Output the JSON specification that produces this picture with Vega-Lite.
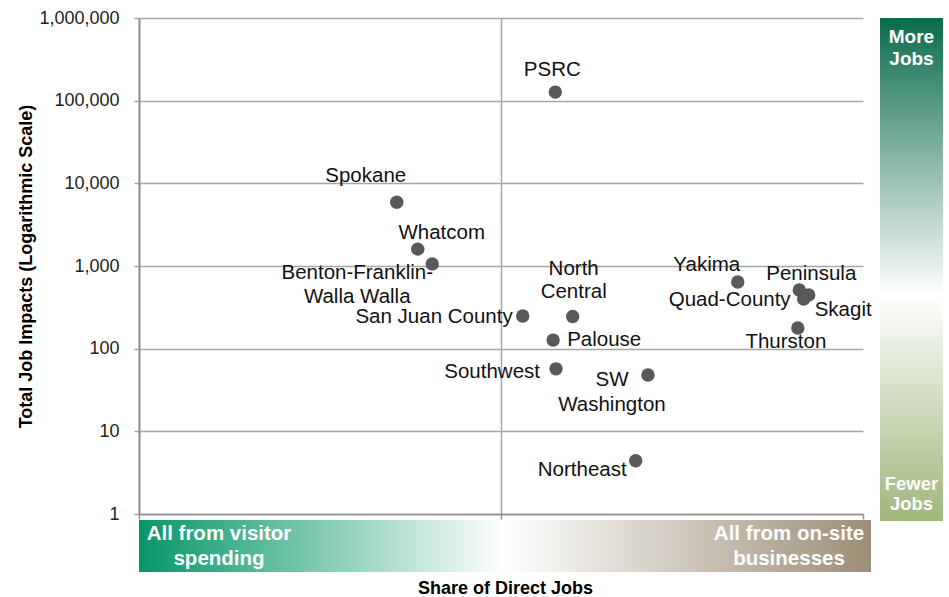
{
  "$schema": "https://vega.github.io/schema/vega-lite/v6.json",
  "background": "white",
  "padding": {"left": 17, "top": 9, "right": 0, "bottom": 0},
  "config": {
    "font": "Liberation Sans",
    "view": {"stroke": null},
    "text": {"font": "Liberation Sans"}
  },
  "datasets": {
    "regions": [
      {"region": "PSRC", "share": 0.575, "jobs": 127000},
      {"region": "Spokane", "share": 0.356, "jobs": 5900},
      {"region": "Whatcom", "share": 0.385, "jobs": 1600},
      {"region": "Benton-Franklin-\nWalla Walla", "share": 0.405, "jobs": 1060},
      {"region": "San Juan County", "share": 0.53, "jobs": 248},
      {"region": "North\nCentral", "share": 0.599, "jobs": 245},
      {"region": "Palouse", "share": 0.572, "jobs": 127},
      {"region": "Southwest", "share": 0.576, "jobs": 57},
      {"region": "SW\nWashington", "share": 0.703, "jobs": 48},
      {"region": "Northeast", "share": 0.686, "jobs": 4.4},
      {"region": "Yakima", "share": 0.827, "jobs": 640},
      {"region": "Peninsula", "share": 0.912, "jobs": 512},
      {"region": "Quad-County", "share": 0.918, "jobs": 399},
      {"region": "Skagit", "share": 0.925, "jobs": 446},
      {"region": "Thurston", "share": 0.91, "jobs": 178}
    ]
  },
  "spacing": 8,
  "hconcat": [
    {
      "spacing": 6,
      "bounds": "flush",
      "vconcat": [
        {
          "width": 724,
          "height": 496,
          "data": {"name": "regions"},
          "encoding": {
            "x": {
              "field": "share", "type": "quantitative",
              "scale": {"domain": [0, 1], "nice": false, "zero": false},
              "axis": {
                "values": [0, 0.5, 1], "labels": false, "title": null,
                "ticks": true, "tickSize": 5, "tickColor": "#8c8c8c", "tickWidth": 1.5,
                "domainColor": "#8c8c8c", "domainWidth": 1.5,
                "grid": true,
                "gridColor": {"condition": {"test": "datum.value === 0.5", "value": "#a6a6a6"}, "value": "transparent"},
                "gridWidth": 1.5
              }
            },
            "y": {
              "field": "jobs", "type": "quantitative",
              "scale": {"type": "log", "domain": [1, 1000000], "nice": false},
              "axis": {
                "values": [1, 10, 100, 1000, 10000, 100000, 1000000],
                "format": ",",
                "title": "Total Job Impacts (Logarithmic Scale)",
                "titleFont": "Liberation Sans", "titleFontSize": 18, "titleFontWeight": "bold",
                "titleColor": "#000000", "titlePadding": 3,
                "labelFont": "Liberation Sans", "labelFontSize": 18, "labelColor": "#222222",
                "labelPadding": 15,
                "tickSize": 5, "tickColor": "#a6a6a6", "tickWidth": 1.5,
                "domainColor": "#8c8c8c", "domainWidth": 2,
                "grid": true, "gridColor": "#a6a6a6", "gridWidth": 1.5
              }
            }
          },
          "layer": [
            {"mark": {"type": "circle", "size": 180, "color": "#595959", "opacity": 1}},
            {"transform": [{"filter": {"field": "region", "equal": "PSRC"}}],
             "mark": {"type": "text", "fontSize": 20.5, "color": "#111111", "align": "center", "baseline": "middle", "dx": -3, "dy": -22},
             "encoding": {"text": {"field": "region"}}},
            {"transform": [{"filter": {"field": "region", "equal": "Spokane"}}],
             "mark": {"type": "text", "fontSize": 20.5, "color": "#111111", "align": "center", "baseline": "middle", "dx": -31, "dy": -26},
             "encoding": {"text": {"field": "region"}}},
            {"transform": [{"filter": {"field": "region", "equal": "Whatcom"}}],
             "mark": {"type": "text", "fontSize": 20.5, "color": "#111111", "align": "center", "baseline": "middle", "dx": 24, "dy": -16},
             "encoding": {"text": {"field": "region"}}},
            {"transform": [{"filter": {"field": "region", "equal": "Benton-Franklin-\nWalla Walla"}}],
             "mark": {"type": "text", "fontSize": 20.5, "color": "#111111", "align": "center", "baseline": "middle", "dx": -75, "dy": 9, "lineBreak": "\n", "lineHeight": 24},
             "encoding": {"text": {"field": "region"}}},
            {"transform": [{"filter": {"field": "region", "equal": "San Juan County"}}],
             "mark": {"type": "text", "fontSize": 20.5, "color": "#111111", "align": "right", "baseline": "middle", "dx": -10, "dy": 1},
             "encoding": {"text": {"field": "region"}}},
            {"transform": [{"filter": {"field": "region", "equal": "North\nCentral"}}],
             "mark": {"type": "text", "fontSize": 20.5, "color": "#111111", "align": "center", "baseline": "middle", "dx": 1, "dy": -47, "lineBreak": "\n", "lineHeight": 23},
             "encoding": {"text": {"field": "region"}}},
            {"transform": [{"filter": {"field": "region", "equal": "Palouse"}}],
             "mark": {"type": "text", "fontSize": 20.5, "color": "#111111", "align": "left", "baseline": "middle", "dx": 14, "dy": 0},
             "encoding": {"text": {"field": "region"}}},
            {"transform": [{"filter": {"field": "region", "equal": "Southwest"}}],
             "mark": {"type": "text", "fontSize": 20.5, "color": "#111111", "align": "right", "baseline": "middle", "dx": -16, "dy": 3},
             "encoding": {"text": {"field": "region"}}},
            {"transform": [{"filter": {"field": "region", "equal": "SW\nWashington"}}],
             "mark": {"type": "text", "fontSize": 20.5, "color": "#111111", "align": "center", "baseline": "middle", "dx": -36, "dy": 5, "lineBreak": "\n", "lineHeight": 25},
             "encoding": {"text": {"field": "region"}}},
            {"transform": [{"filter": {"field": "region", "equal": "Northeast"}}],
             "mark": {"type": "text", "fontSize": 20.5, "color": "#111111", "align": "right", "baseline": "middle", "dx": -9, "dy": 9},
             "encoding": {"text": {"field": "region"}}},
            {"transform": [{"filter": {"field": "region", "equal": "Yakima"}}],
             "mark": {"type": "text", "fontSize": 20.5, "color": "#111111", "align": "center", "baseline": "middle", "dx": -31, "dy": -17},
             "encoding": {"text": {"field": "region"}}},
            {"transform": [{"filter": {"field": "region", "equal": "Peninsula"}}],
             "mark": {"type": "text", "fontSize": 20.5, "color": "#111111", "align": "center", "baseline": "middle", "dx": 12, "dy": -16},
             "encoding": {"text": {"field": "region"}}},
            {"transform": [{"filter": {"field": "region", "equal": "Quad-County"}}],
             "mark": {"type": "text", "fontSize": 20.5, "color": "#111111", "align": "right", "baseline": "middle", "dx": -13, "dy": 1},
             "encoding": {"text": {"field": "region"}}},
            {"transform": [{"filter": {"field": "region", "equal": "Skagit"}}],
             "mark": {"type": "text", "fontSize": 20.5, "color": "#111111", "align": "left", "baseline": "middle", "dx": 6, "dy": 15},
             "encoding": {"text": {"field": "region"}}},
            {"transform": [{"filter": {"field": "region", "equal": "Thurston"}}],
             "mark": {"type": "text", "fontSize": 20.5, "color": "#111111", "align": "center", "baseline": "middle", "dx": -12, "dy": 14},
             "encoding": {"text": {"field": "region"}}}
          ]
        },
        {
          "width": 732,
          "height": 52,
          "data": {"values": [{}]},
          "layer": [
            {
              "mark": {"type": "rect", "color": {"gradient": "linear", "x1": 0, "y1": 0, "x2": 1, "y2": 0,
                "stops": [
                  {"offset": 0, "color": "#079669"},
                  {"offset": 0.5, "color": "#ffffff"},
                  {"offset": 1, "color": "#9c8e76"}
                ]}},
              "encoding": {
                "x": {"datum": 0, "type": "quantitative",
                  "scale": {"domain": [0, 1], "nice": false, "zero": false},
                  "axis": {"title": "Share of Direct Jobs", "labels": false, "ticks": false, "domain": false, "grid": false,
                    "titleFont": "Liberation Sans", "titleFontSize": 18, "titleFontWeight": "bold", "titleColor": "#000000", "titlePadding": 7}},
                "x2": {"datum": 1},
                "y": {"datum": 0, "type": "quantitative", "scale": {"domain": [0, 1], "nice": false}, "axis": null},
                "y2": {"datum": 1}
              }
            },
            {
              "mark": {"type": "text", "align": "center", "baseline": "middle", "dx": 80, "dy": -12, "lineBreak": "\n", "lineHeight": 25,
                "fontSize": 20.5, "fontWeight": "bold", "color": "#ffffff"},
              "encoding": {
                "x": {"datum": 0, "type": "quantitative"},
                "y": {"datum": 0.5, "type": "quantitative"},
                "text": {"value": "All from visitor\nspending"}
              }
            },
            {
              "mark": {"type": "text", "align": "center", "baseline": "middle", "dx": -82, "dy": -12, "lineBreak": "\n", "lineHeight": 25,
                "fontSize": 20.5, "fontWeight": "bold", "color": "#ffffff"},
              "encoding": {
                "x": {"datum": 1, "type": "quantitative"},
                "y": {"datum": 0.5, "type": "quantitative"},
                "text": {"value": "All from on-site\nbusinesses"}
              }
            }
          ]
        }
      ]
    },
    {
      "width": 63,
      "height": 503,
      "data": {"values": [{}]},
      "layer": [
        {
          "mark": {"type": "rect", "color": {"gradient": "linear", "x1": 0, "y1": 0, "x2": 0, "y2": 1,
            "stops": [
              {"offset": 0, "color": "#0a6b4d"},
              {"offset": 0.55, "color": "#ffffff"},
              {"offset": 1, "color": "#9fb67a"}
            ]}},
          "encoding": {
            "x": {"datum": 0, "type": "quantitative", "scale": {"domain": [0, 1], "nice": false}, "axis": null},
            "x2": {"datum": 1},
            "y": {"datum": 0, "type": "quantitative", "scale": {"domain": [0, 1], "nice": false}, "axis": null},
            "y2": {"datum": 1}
          }
        },
        {
          "mark": {"type": "text", "align": "center", "baseline": "middle", "dy": 19, "lineBreak": "\n", "lineHeight": 22,
            "fontSize": 19, "fontWeight": "bold", "color": "#ffffff"},
          "encoding": {
            "x": {"datum": 0.5, "type": "quantitative"},
            "y": {"datum": 1, "type": "quantitative"},
            "text": {"value": "More\nJobs"}
          }
        },
        {
          "mark": {"type": "text", "align": "center", "baseline": "middle", "dy": -37, "lineBreak": "\n", "lineHeight": 20,
            "fontSize": 18.5, "fontWeight": "bold", "color": "#ffffff"},
          "encoding": {
            "x": {"datum": 0.5, "type": "quantitative"},
            "y": {"datum": 0, "type": "quantitative"},
            "text": {"value": "Fewer\nJobs"}
          }
        }
      ]
    }
  ]
}
